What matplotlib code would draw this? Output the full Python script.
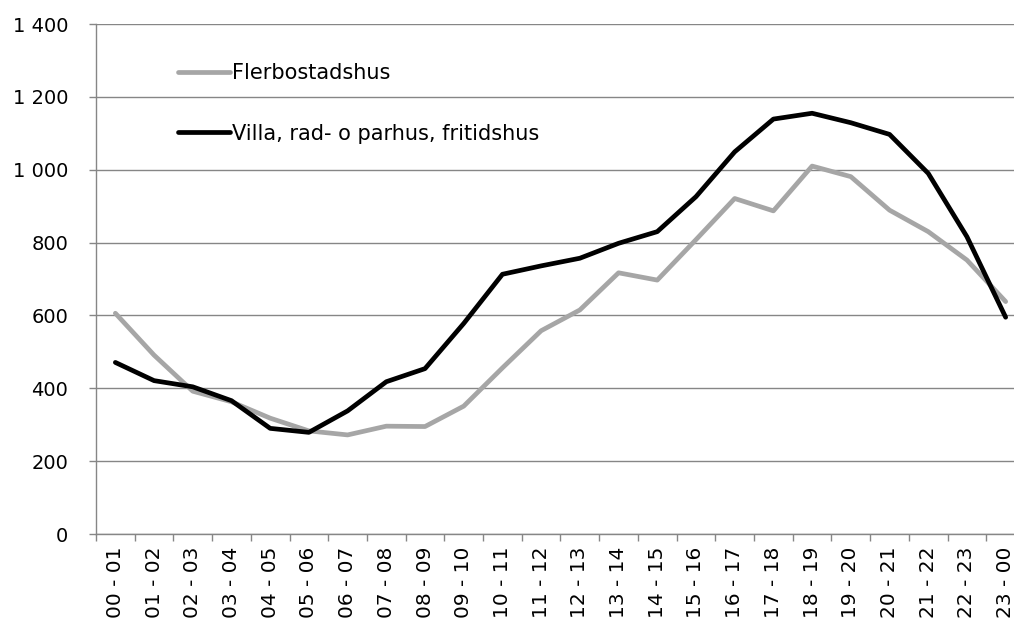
import numpy as np
import matplotlib
matplotlib.use('Agg')
import matplotlib.pyplot as plt

plt.rcParams['font.family'] = ['DejaVu Sans']

hours = [f"{h:02d} - {(h + 1) % 24:02d}" for h in range(24)]

flerbostadshus = [606, 491, 392, 363, 318, 283, 272, 296, 295, 351, 456, 558,
                  615, 717, 697, 808, 921, 887, 1010, 981, 889, 830, 752, 638]
villa = [471, 421, 404, 366, 290, 279, 338, 418, 454, 578, 713, 736,
         757, 798, 830, 926, 1049, 1139, 1155, 1129, 1097, 990, 816, 595]

fig = plt.figure(figsize=(10.14, 6.26), dpi=100)
ax = fig.add_axes([96 / 1014, 1 - 534 / 626, 929 / 1014, 510 / 626])

x = np.arange(len(hours))
ax.plot(x, flerbostadshus, color='#a6a6a6', lw=3.4, label='Flerbostadshus',
        solid_joinstyle='round', solid_capstyle='round')
ax.plot(x, villa, color='black', lw=3.4, label='Villa, rad- o parhus, fritidshus',
        solid_joinstyle='round', solid_capstyle='round')

ax.set_xlim(-0.5, 23.5)
ax.set_ylim(0, 1400)
ax.set_yticks(np.arange(0, 1401, 200))
ax.set_yticklabels([f"{v:,}".replace(',', ' ') for v in range(0, 1401, 200)])
ax.yaxis.grid(True, color='#868686', lw=1)
ax.set_axisbelow(True)

ax.set_xticks(x)
ax.set_xticklabels(hours, rotation=90, va='top')
ax.tick_params(axis='x', length=0, pad=9, labelsize=14.5)
ax.set_xticks(np.arange(-0.5, 24, 1), minor=True)
ax.tick_params(axis='x', which='minor', length=5, color='#868686', width=1)
ax.tick_params(axis='y', length=5, color='#868686', width=1, labelsize=14, pad=15)

for s in ['top', 'right']:
    ax.spines[s].set_visible(False)
for s in ['left', 'bottom']:
    ax.spines[s].set_color('#868686')
    ax.spines[s].set_linewidth(1)

ax.legend(loc='upper left', bbox_to_anchor=(178 / 1014, 1 - 63 / 626),
          bbox_transform=fig.transFigure, frameon=False, fontsize=15,
          handlelength=2.5, handletextpad=0.1, labelspacing=1.95,
          borderaxespad=0, borderpad=0)

fig.savefig('out.png', dpi=100)
